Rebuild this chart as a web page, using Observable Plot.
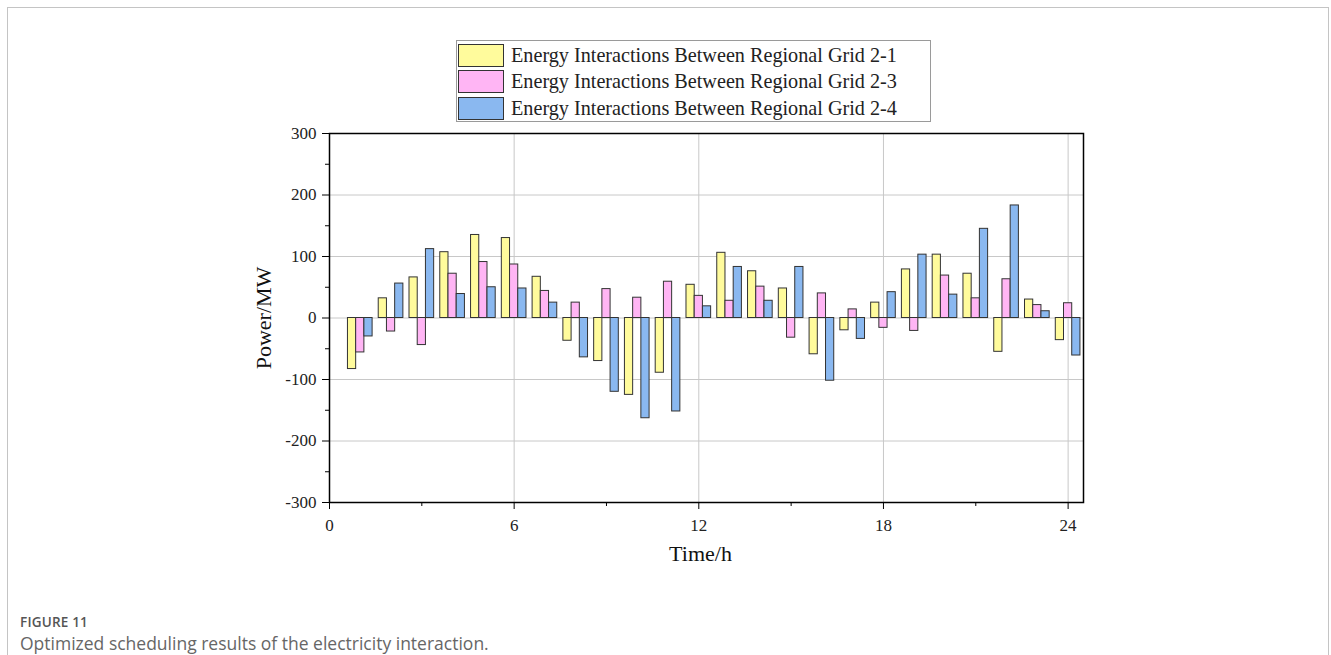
<!DOCTYPE html>
<html>
<head>
<meta charset="utf-8">
<script src="https://cdn.jsdelivr.net/npm/d3@7"></script>
<script src="https://cdn.jsdelivr.net/npm/@observablehq/plot@0.6"></script>
<style>
  html, body { margin: 0; padding: 0; background: #fff; width: 1331px; height: 655px; overflow: hidden; }
  #card { position: absolute; left: 7px; top: 7px; width: 1322px; height: 700px; border: 1px solid #c4c4c4; box-sizing: border-box; }
  #chart { position: absolute; left: 0; top: 125px; }
  #chart svg text { font-family: "Liberation Serif", "Times New Roman", serif !important; font-variant: normal !important; }
  #legend { position: absolute; left: 456px; top: 40px; width: 475px; height: 82px; border: 1px solid #9a9a9a; box-sizing: border-box; padding: 1px 0 0 1px; font-family: "Liberation Serif", serif; font-size: 20.2px; color: #222; }
  .row { display: flex; align-items: center; height: 26.5px; }
  .sw { width: 46px; height: 23px; border: 1px solid #333; box-sizing: border-box; margin-right: 7px; }
  #cap1 { position: absolute; left: 20px; top: 614px; font-family: "Open Sans", sans-serif; font-size: 13.5px; line-height: 16px; font-weight: 600; color: #555; letter-spacing: 0.2px; }
  #cap2 { position: absolute; left: 20px; top: 633px; font-family: "Open Sans", sans-serif; font-size: 17.5px; line-height: 20px; color: #666; }
</style>
</head>
<body>
<div id="card"></div>
<div id="legend"></div>
<div id="chart"></div>
<div id="cap1">FIGURE 11</div>
<div id="cap2">Optimized scheduling results of the electricity interaction.</div>
<script>
const hours = [1,2,3,4,5,6,7,8,9,10,11,12,13,14,15,16,17,18,19,20,21,22,23,24];
const grid21 = [-83, 32, 66, 107, 135, 130, 67, -37, -70, -125, -89, 54, 106, 76, 48, -59, -20, 25, 79, 103, 72, -55, 30, -36];
const grid23 = [-56, -22, -44, 72, 91, 87, 44, 25, 47, 33, 59, 36, 28, 51, -32, 40, 14, -16, -21, 69, 32, 63, 21, 24];
const grid24 = [-30, 56, 112, 39, 50, 48, 25, -64, -120, -163, -152, 19, 83, 28, 83, -102, -34, 42, 103, 38, 145, 183, 11, -61];
const seriesNames = [
  "Energy Interactions Between Regional Grid 2-1",
  "Energy Interactions Between Regional Grid 2-3",
  "Energy Interactions Between Regional Grid 2-4"
];
const seriesColors = ["#FFFB9C", "#FFB5F4", "#8AB8F0"];
const yTicks = [-300, -200, -100, 0, 100, 200, 300];
const yMinor = [-250, -150, -50, 50, 150, 250];
const yGrid = [-200, -100, 0, 100, 200];
const xTicks = [0, 6, 12, 18, 24];
const xMinor = [3, 9, 15, 21];
const xGrid = [6, 12, 18, 24];

const allSeries = [grid21, grid23, grid24];
const rows = hours.flatMap((h, i) => allSeries.map((s, k) => ({hour: h, k, value: s[i], name: seriesNames[k]})));
const bw = 0.267;
const serif = "Liberation Serif";

const chart = Plot.plot({
  width: 1331,
  height: 455,
  marginLeft: 329,
  marginRight: 248,
  marginTop: 8,
  marginBottom: 78,
  style: {fontFamily: serif, fontSize: "17px", color: "#222", background: "transparent"},
  x: {domain: [0, 24.5], axis: null},
  y: {domain: [-300, 300], axis: null},
  color: {domain: seriesNames, range: seriesColors},
  marks: [
    Plot.gridY(yGrid, {stroke: "#c8c8c8", strokeOpacity: 1, strokeWidth: 1}),
    Plot.gridX(xGrid, {stroke: "#c8c8c8", strokeOpacity: 1, strokeWidth: 1}),
    Plot.rectY(rows, {
      x1: d => d.hour + (d.k - 1.5) * bw,
      x2: d => d.hour + (d.k - 0.5) * bw,
      y: "value",
      fill: "name",
      stroke: "#333",
      strokeWidth: 1
    }),
    Plot.axisY({ticks: yTicks, tickSize: 7, text: null, label: null, stroke: "#000"}),
    Plot.axisY({ticks: yMinor, tickSize: 4, text: null, label: null, stroke: "#000"}),
    Plot.axisX({ticks: xTicks, tickSize: 7, text: null, label: null, stroke: "#000"}),
    Plot.axisX({ticks: xMinor, tickSize: 4, text: null, label: null, stroke: "#000"}),
    Plot.text(yTicks, {y: d => d, frameAnchor: "left", textAnchor: "end", dx: -13, text: d => String(d), fontFamily: serif, fontSize: 17, fill: "#222"}),
    Plot.text(xTicks, {x: d => d, frameAnchor: "bottom", lineAnchor: "top", dy: 16, text: d => String(d), fontFamily: serif, fontSize: 17, fill: "#222"}),
    Plot.frame({stroke: "#000", strokeWidth: 1.5}),
    Plot.text(["Time/h"], {frameAnchor: "bottom", textAnchor: "middle", dy: 58, dx: -6, fontSize: 22, fill: "#111", fontFamily: serif}),
    Plot.text(["Power/MW"], {frameAnchor: "left", textAnchor: "middle", dx: -66, rotate: -90, fontSize: 22, fill: "#111", fontFamily: serif})
  ]
});
document.getElementById("chart").appendChild(chart);

const legend = document.getElementById("legend");
seriesNames.forEach((n, i) => {
  const row = document.createElement("div");
  row.className = "row";
  const sw = document.createElement("div");
  sw.className = "sw";
  sw.style.background = seriesColors[i];
  const t = document.createElement("span");
  t.textContent = n;
  row.appendChild(sw);
  row.appendChild(t);
  legend.appendChild(row);
});
</script>
</body>
</html>
